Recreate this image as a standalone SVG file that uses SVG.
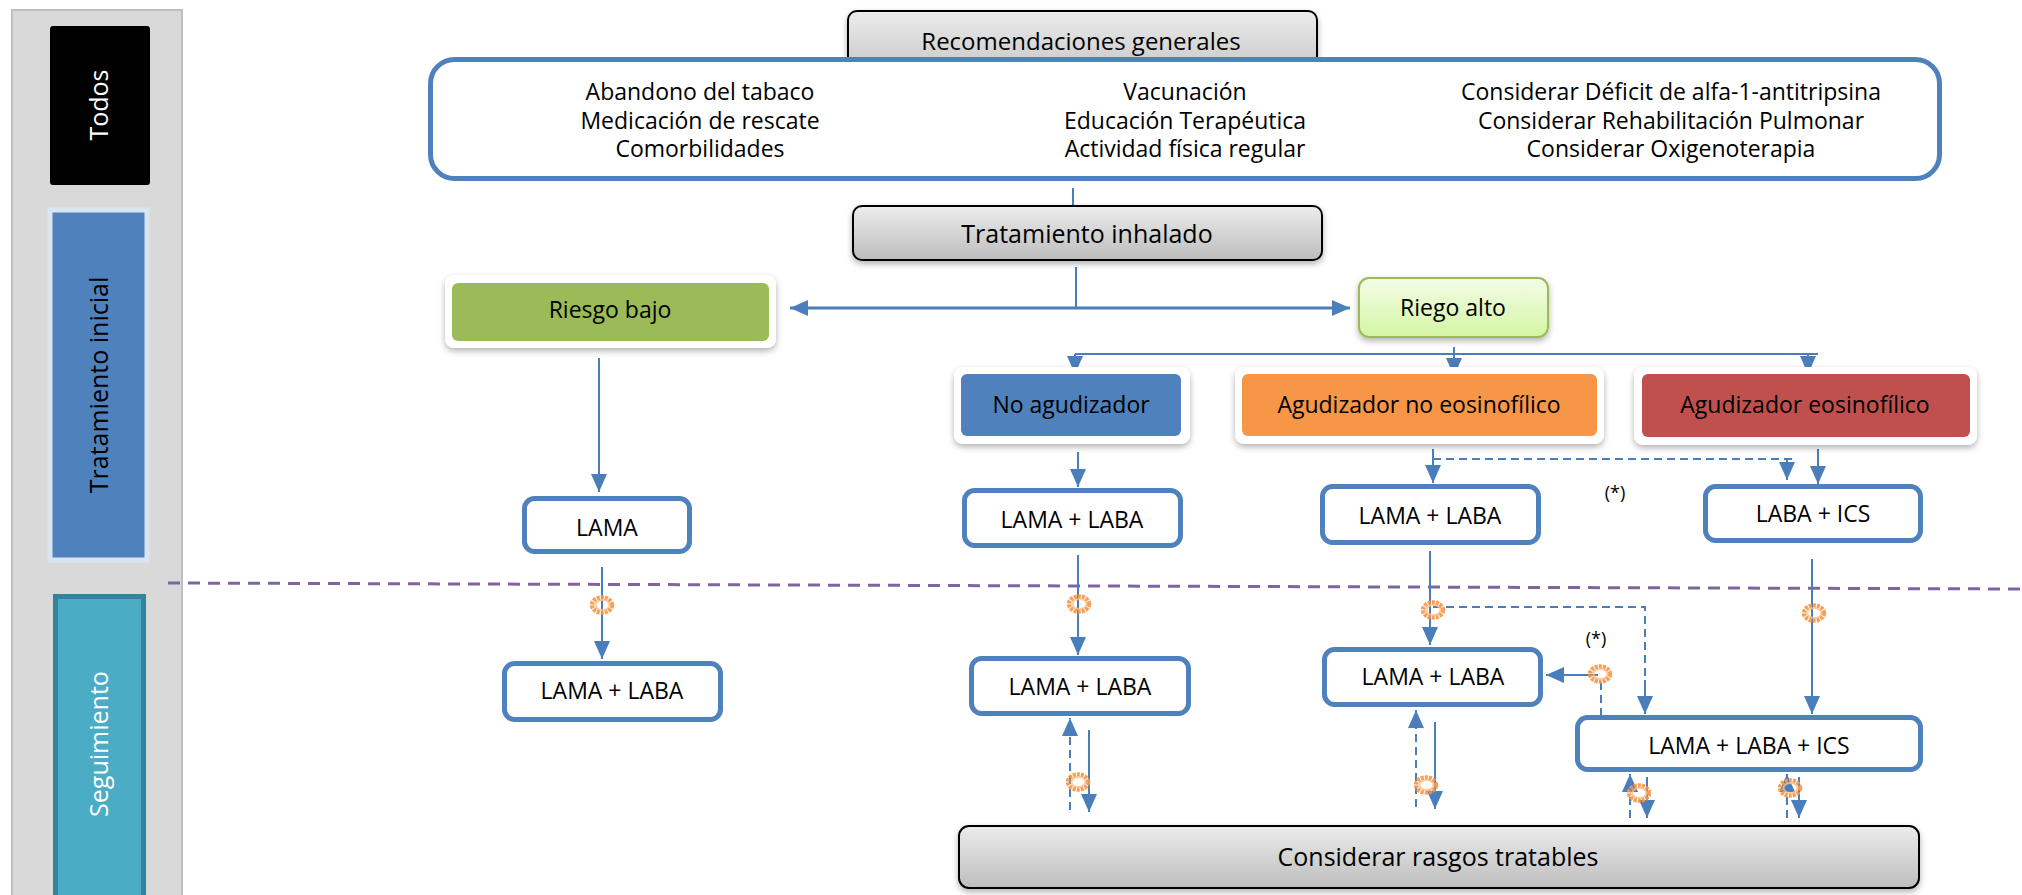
<svg xmlns="http://www.w3.org/2000/svg" width="2022" height="895" viewBox="0 0 2022 895">
<style>
text{font-family:"Open Sans","Noto Sans","Liberation Sans",sans-serif;fill:#000;text-anchor:middle}
.t23{font-size:23px}
.t24{font-size:24px}
.t25{font-size:25px}
.small{font-size:18px}
.lane{font-size:25px}
.box{fill:#fff;stroke:#4f81bd;stroke-width:5}
.gray{fill:url(#gg);stroke:#000;stroke-width:2}
.wb{fill:#fff}
.ln{fill:none;stroke:#4a7ebb;stroke-width:2}
.dl{fill:none;stroke:#4a7ebb;stroke-width:2;stroke-dasharray:8 5}
.arr{marker-end:url(#ah)}
</style>
<defs>
<linearGradient id="gg" x1="0" y1="0" x2="0" y2="1"><stop offset="0" stop-color="#ececec"/><stop offset="1" stop-color="#bdbdbd"/></linearGradient>
<linearGradient id="lg" x1="0" y1="0" x2="0" y2="1"><stop offset="0" stop-color="#f3fde8"/><stop offset="1" stop-color="#d4f5a3"/></linearGradient>
<filter id="sh" x="-10%" y="-15%" width="125%" height="145%"><feDropShadow dx="0" dy="3" stdDeviation="3" flood-color="#000" flood-opacity="0.3"/></filter>
<marker id="ah" markerUnits="userSpaceOnUse" markerWidth="18" markerHeight="16" viewBox="0 0 18 16" refX="18" refY="8" orient="auto-start-reverse"><path d="M0,0 L18,8 L0,16 z" fill="#4a7ebb"/></marker>
<g id="cloud"><ellipse cx="0" cy="0" rx="10" ry="7.5" fill="none" stroke="#f79646" stroke-width="4.5" stroke-dasharray="3 1" opacity="0.9"/><ellipse cx="0.5" cy="0" rx="7" ry="5" fill="none" stroke="#fbc08a" stroke-width="2" opacity="0.8"/></g>
</defs>

<!-- left lanes -->
<g id="lanes">
<rect x="12" y="10" width="170" height="900" fill="#d9d9d9" stroke="#bfbfbf" stroke-width="2"/>
<g id="lane-todos"><rect x="50" y="26" width="100" height="159" rx="3" fill="#000"/><text class="lane" transform="translate(108,105) rotate(-90)" style="fill:#fff">Todos</text></g>
<g id="lane-inicial"><rect x="50" y="210" width="97" height="350" fill="#4f81bd" stroke="#dbe5f1" stroke-width="5"/><text class="lane" transform="translate(108,385) rotate(-90)">Tratamiento inicial</text></g>
<g id="lane-seg"><rect x="55.5" y="596.5" width="88" height="310" fill="#4bacc6" stroke="#31849b" stroke-width="5"/><text class="lane" transform="translate(108,744) rotate(-90)" style="fill:#fff">Seguimiento</text></g>
</g>

<line x1="168" y1="583" x2="2022" y2="589" stroke="#8064a2" stroke-width="3" stroke-dasharray="12 8"/>

<!-- connectors -->
<g id="connectors">
<line class="ln" x1="1073" y1="188" x2="1073" y2="206"/>
<line class="ln" x1="1076" y1="267" x2="1076" y2="308"/>
<line class="ln" x1="790" y1="308" x2="1350" y2="308" style="stroke-width:3" marker-start="url(#ah)" marker-end="url(#ah)"/>
<line class="ln arr" x1="599" y1="358" x2="599" y2="492"/>
<line class="ln arr" x1="1454" y1="347" x2="1454" y2="376"/>
<line class="ln" x1="1075" y1="354" x2="1818" y2="354"/>
<line class="ln arr" x1="1075" y1="354" x2="1075" y2="374"/>
<line class="ln arr" x1="1808" y1="354" x2="1808" y2="374"/>
<line class="ln arr" x1="1078" y1="452" x2="1078" y2="487"/>
<line class="ln arr" x1="1433" y1="449" x2="1433" y2="483"/>
<path class="dl" d="M1433,459 H1793"/>
<line class="dl arr" x1="1787" y1="459" x2="1787" y2="480"/>
<line class="ln arr" x1="1818" y1="449" x2="1818" y2="484"/>
<line class="ln arr" x1="602" y1="567" x2="602" y2="659"/>
<line class="ln arr" x1="1078" y1="555" x2="1078" y2="655"/>
<line class="dl arr" x1="1070" y1="810" x2="1070" y2="718"/>
<line class="ln arr" x1="1089" y1="730" x2="1089" y2="812"/>
<line class="ln arr" x1="1430" y1="551" x2="1430" y2="645"/>
<path class="dl" d="M1433,607 H1645 V684"/>
<line class="ln arr" x1="1645" y1="680" x2="1645" y2="714"/>
<line class="dl" x1="1601" y1="682" x2="1601" y2="715"/>
<line class="ln arr" x1="1598" y1="675" x2="1546" y2="675"/>
<line class="ln arr" x1="1812" y1="559" x2="1812" y2="714"/>
<line class="dl arr" x1="1416" y1="807" x2="1416" y2="710"/>
<line class="ln arr" x1="1435" y1="722" x2="1435" y2="809"/>
<line class="dl arr" x1="1630" y1="818" x2="1630" y2="774"/>
<line class="ln arr" x1="1647" y1="777" x2="1647" y2="818"/>
<line class="dl arr" x1="1787" y1="818" x2="1787" y2="774"/>
<line class="ln arr" x1="1799" y1="777" x2="1799" y2="818"/>
<use href="#cloud" x="602" y="605"/>
<use href="#cloud" x="1079" y="604"/>
<use href="#cloud" x="1078" y="782"/>
<use href="#cloud" x="1433" y="610"/>
<use href="#cloud" x="1600" y="674"/>
<use href="#cloud" x="1814" y="613"/>
<use href="#cloud" x="1426" y="785"/>
<use href="#cloud" x="1639" y="793"/>
<use href="#cloud" x="1790" y="788"/>
<text class="small" x="1615" y="499">(*)</text>
<text class="small" x="1596" y="645">(*)</text>
</g>

<!-- nodes -->
<g id="n-recomendaciones"><rect class="gray" x="848" y="11" width="469" height="80" rx="9" filter="url(#sh)"/><text class="t24" x="1081" y="50">Recomendaciones generales</text></g>
<g id="n-general"><rect x="430.5" y="59.5" width="1509" height="119" rx="24" fill="#fff" stroke="#4f81bd" stroke-width="5"/>
<text class="t23" x="700" y="100">Abandono del tabaco</text>
<text class="t23" x="700" y="128.5">Medicación de rescate</text>
<text class="t23" x="700" y="157">Comorbilidades</text>
<text class="t23" x="1185" y="100">Vacunación</text>
<text class="t23" x="1185" y="128.5">Educación Terapéutica</text>
<text class="t23" x="1185" y="157">Actividad física regular</text>
<text class="t23" x="1671" y="100">Considerar Déficit de alfa-1-antitripsina</text>
<text class="t23" x="1671" y="128.5">Considerar Rehabilitación Pulmonar</text>
<text class="t23" x="1671" y="157">Considerar Oxigenoterapia</text>
</g>
<g id="n-inhalado"><rect class="gray" x="853" y="206" width="469" height="54" rx="9" filter="url(#sh)"/><text class="t25" x="1087" y="243">Tratamiento inhalado</text></g>
<g id="n-riesgo-bajo"><rect class="wb" x="445" y="275" width="331" height="73" rx="9" filter="url(#sh)"/><rect x="452" y="283" width="317" height="58" rx="6" fill="#9bbb59"/><text class="t23" x="610" y="318">Riesgo bajo</text></g>
<g id="n-riego-alto"><rect x="1359" y="278" width="189" height="59" rx="10" fill="url(#lg)" stroke="#9bbb59" stroke-width="2" filter="url(#sh)"/><text class="t23" x="1453" y="316">Riego alto</text></g>
<g id="n-no-agud"><rect class="wb" x="954" y="367" width="236" height="77" rx="9" filter="url(#sh)"/><rect x="961" y="374" width="220" height="62" rx="6" fill="#4f81bd"/><text class="t23" x="1071" y="413">No agudizador</text></g>
<g id="n-agud-no-eos"><rect class="wb" x="1235" y="367" width="369" height="77" rx="9" filter="url(#sh)"/><rect x="1242" y="374" width="355" height="62" rx="6" fill="#f79646"/><text class="t23" x="1419" y="413">Agudizador no eosinofílico</text></g>
<g id="n-agud-eos"><rect class="wb" x="1634" y="367" width="343" height="78" rx="9" filter="url(#sh)"/><rect x="1642" y="374" width="328" height="63" rx="6" fill="#c0504d"/><text class="t23" x="1805" y="413">Agudizador eosinofílico</text></g>
<g id="n-lama"><rect class="box" x="524.5" y="498.5" width="165" height="53" rx="10"/><text class="t23" x="607" y="536">LAMA</text></g>
<g id="n-lama-laba-1"><rect class="box" x="504.5" y="663.5" width="216" height="56" rx="10"/><text class="t23" x="612" y="699">LAMA + LABA</text></g>
<g id="n-lama-laba-2"><rect class="box" x="964.5" y="490.5" width="216" height="55" rx="10"/><text class="t23" x="1072" y="528">LAMA + LABA</text></g>
<g id="n-lama-laba-3"><rect class="box" x="971.5" y="658.5" width="217" height="55" rx="10"/><text class="t23" x="1080" y="695">LAMA + LABA</text></g>
<g id="n-lama-laba-4"><rect class="box" x="1322.5" y="486.5" width="216" height="56" rx="10"/><text class="t23" x="1430" y="524">LAMA + LABA</text></g>
<g id="n-laba-ics"><rect class="box" x="1705.5" y="486.5" width="215" height="54" rx="10"/><text class="t23" x="1813" y="522">LABA + ICS</text></g>
<g id="n-lama-laba-5"><rect class="box" x="1324.5" y="649.5" width="216" height="55" rx="10"/><text class="t23" x="1433" y="685">LAMA + LABA</text></g>
<g id="n-triple"><rect class="box" x="1577.5" y="717.5" width="343" height="52" rx="10"/><text class="t23" x="1749" y="754">LAMA + LABA + ICS</text></g>
<g id="n-rasgos"><rect class="gray" x="959" y="826" width="960" height="62" rx="10" filter="url(#sh)"/><text class="t25" x="1438" y="866">Considerar rasgos tratables</text></g>
</svg>
